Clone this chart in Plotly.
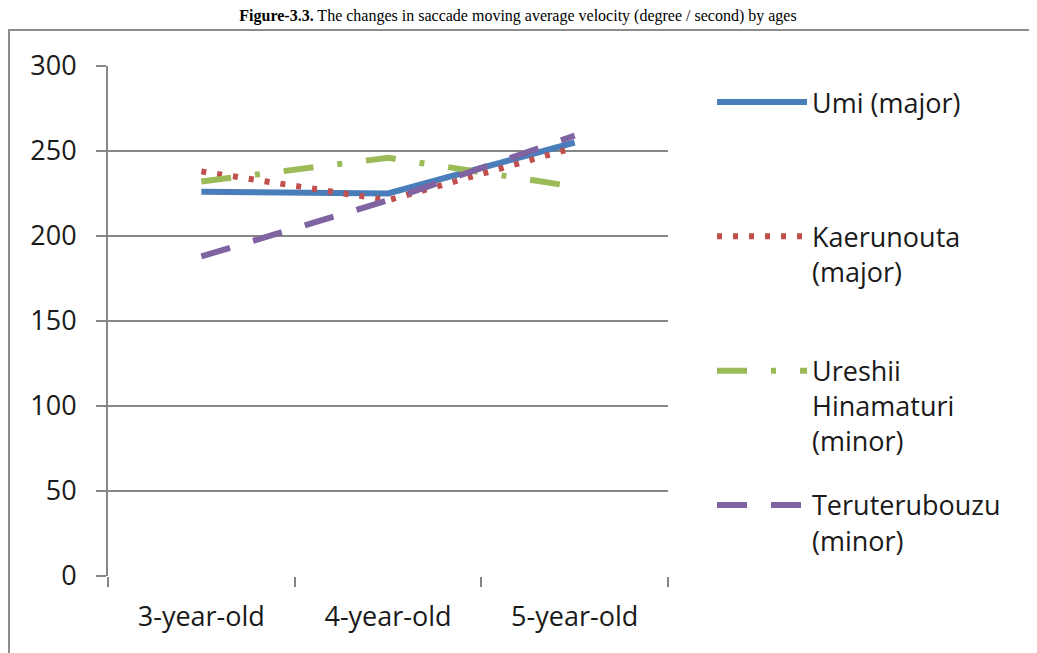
import plotly.graph_objects as go

categories = ["3-year-old", "4-year-old", "5-year-old"]
umi = [226, 225, 255]
kaerunouta = [238, 221, 252]
ureshii = [232, 246, 229]
teruterubouzu = [188, 221, 259]

series_names = [
    "Umi (major)<br> <br> ",
    "Kaerunouta<br>(major)<br> ",
    "Ureshii<br>Hinamaturi<br>(minor)",
    "Teruterubouzu<br>(minor)",
]
series_values = [umi, kaerunouta, ureshii, teruterubouzu]
colors = ["#4a7ebb", "#c0504d", "#9bbb59", "#8064a2"]
dashes = ["solid", "5px,11px", "30px,24px,5px,24px", "30px,24px"]

FONT = "Open Sans"
FS = 27
OFF = 8  # page body margin
W, H = 1037 - OFF, 653 - OFF
# plot area in page pixels: x 108..668, y 66..576
L, R, T, B = 108 - OFF, W - (668 - OFF), 66 - OFF, H - (576 - OFF)
pw = W - L - R
ph = H - T - B

def px_x(page_x):
    return (page_x - OFF - L) / pw

def px_y(page_y):
    return (H - B - (page_y - OFF)) / ph

fig = go.Figure()
for name, vals, c, d in zip(series_names, series_values, colors, dashes):
    fig.add_trace(go.Scatter(
        x=categories, y=vals, mode="lines", name=name,
        line=dict(color=c, width=6, dash=d),
        legendgroup=name,
    ))

fig.add_shape(type="rect", xref="paper", yref="paper",
              x0=px_x(9), x1=px_x(1100),
              y0=px_y(720), y1=px_y(30),
              line=dict(color="#8c8c8c", width=2), fillcolor="rgba(0,0,0,0)",
              layer="below")

fig.update_layout(
    width=W, height=H,
    margin=dict(l=L, r=R, t=T, b=B),
    paper_bgcolor="white", plot_bgcolor="white",
    title=dict(
        text="<b>Figure-3.3.</b> The changes in saccade moving average velocity (degree / second) by ages",
        font=dict(family="Liberation Serif", size=16, color="black"),
        x=(518 - OFF) / W, xanchor="center", xref="container",
        y=1 - 1.5 / H, yanchor="top", yref="container",
        pad=dict(t=0, b=0, l=0, r=0),
    ),
    xaxis=dict(
        type="category", range=[-0.5, 2.5],
        showgrid=False, showline=False, zeroline=False,
        ticks="outside", ticklen=10, tickwidth=2, tickcolor="#868686",
        tickson="boundaries",
        tickfont=dict(family=FONT, size=FS, color="#1a1a1a"),
        ticklabelstandoff=22,
    ),
    yaxis=dict(
        range=[0, 300], tickvals=[0, 50, 100, 150, 200, 250, 300],
        showgrid=True, gridcolor="#868686", gridwidth=2,
        showline=True, linecolor="#868686", linewidth=2,
        zeroline=False,
        ticks="outside", ticklen=10, tickwidth=2, tickcolor="#868686",
        tickfont=dict(family=FONT, size=FS, color="#1a1a1a"),
        ticklabelstandoff=14,
    ),
    legend=dict(
        x=px_x(712), xanchor="left", y=px_y(78), yanchor="top",
        font=dict(family=FONT, size=FS, color="#1a1a1a"),
        itemwidth=90, valign="top", tracegroupgap=26,
        maxheight=620,
        bgcolor="rgba(0,0,0,0)",
    ),
    showlegend=True,
)

fig.write_html("out.html")
